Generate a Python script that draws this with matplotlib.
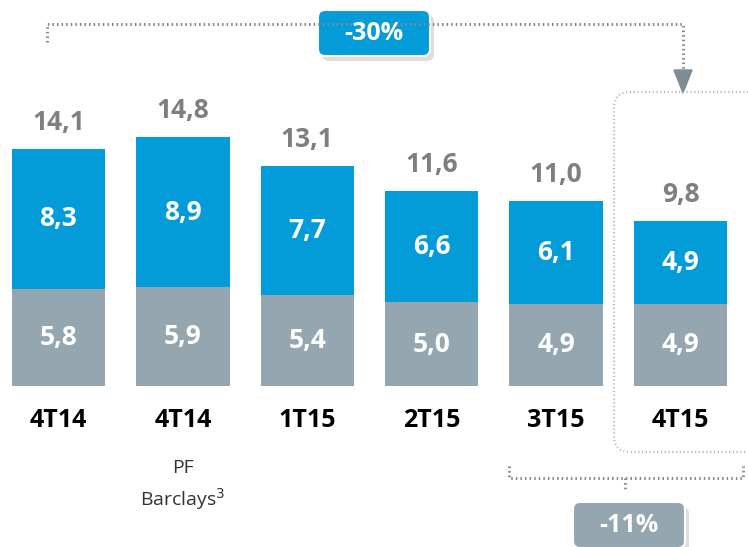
import matplotlib
matplotlib.use("Agg")
import numpy as np
from matplotlib import pyplot as plt
from matplotlib.patches import FancyBboxPatch

# data
categories = ['4T14', '4T14', '1T15', '2T15', '3T15', '4T15']
bottom_vals = [5.8, 5.9, 5.4, 5.0, 4.9, 4.9]
top_vals = [8.3, 8.9, 7.7, 6.6, 6.1, 4.9]
totals = [14.1, 14.8, 13.1, 11.6, 11.0, 9.8]
change_all = '-30%'
change_q = '-11%'

blue = '#049bd9'
grey = '#94a6af'
dark = '#7f8c95'
font = 'Open Sans'

fig = plt.figure(figsize=(7.48, 5.47), dpi=100)
ax = fig.add_axes([0, 0, 1, 1])
x = np.arange(len(categories))
ax.bar(x, bottom_vals, width=0.75, color=grey)
ax.bar(x, top_vals, width=0.75, bottom=bottom_vals, color=blue)

def fmt(v):
    return ('%.1f' % v).replace('.', ',')

for i in range(len(x)):
    ax.text(x[i], bottom_vals[i] / 2, fmt(bottom_vals[i]), ha='center', va='center',
            color='white', fontsize=19, fontweight='bold', family=font)
    ax.text(x[i], bottom_vals[i] + top_vals[i] / 2, fmt(top_vals[i]), ha='center', va='center',
            color='white', fontsize=19, fontweight='bold', family=font)
    ax.text(x[i], totals[i] + 1.6, fmt(totals[i]), ha='center', va='center',
            color='#7f7f7f', fontsize=19, fontweight='bold', family=font)
    ax.text(x[i], -2.05, categories[i], ha='center', va='center',
            color='black', fontsize=18, fontweight='bold', family=font)
ax.text(x[1], -4.9, 'PF', ha='center', va='center', fontsize=14, family=font, color='#333333')
ax.text(x[1], -6.7, 'Barclays$^3$', ha='center', va='center', fontsize=14, family=font, color='#333333')

ax.set_xlim(-0.470, 5.543)
ax.set_ylim(-9.58, 22.98)
ax.axis('off')

# overlay in pixel coords for the annotations
ov = fig.add_axes([0, 0, 1, 1])
ov.set_xlim(0, 748)
ov.set_ylim(547, 0)
ov.axis('off')
dot = dict(color=dark, lw=2.2, ls=(0, (0.5, 1.0)))

ov.plot([47, 47, 683, 683], [42, 24, 24, 75], **dot)
ov.fill([674, 692, 683], [70, 70, 93], color=dark)
ov.plot([509, 509, 743, 743], [466, 478, 478, 466], **dot)
ov.plot([625, 625], [478, 490], **dot)

frame = FancyBboxPatch((614, 92), 160, 360, boxstyle='round,pad=0,rounding_size=16',
                       fill=False, ec='#b0b8bd', lw=1.6, ls=(0, (0.5, 1.2)))
ov.add_patch(frame)

for (bx, by, c, s) in [(318, 10, blue, change_all), (573, 502, grey, change_q)]:
    sh = FancyBboxPatch((bx + 4, by + 5), 112, 46, boxstyle='round,pad=0,rounding_size=7',
                        fc='#c8c8c8', ec='none', alpha=0.6)
    ov.add_patch(sh)
    b = FancyBboxPatch((bx, by), 112, 46, boxstyle='round,pad=0,rounding_size=7',
                       fc=c, ec='white', lw=1.5)
    ov.add_patch(b)
    ov.text(bx + 56, by + 24, s, ha='center', va='center', color='white',
            fontsize=18, fontweight='bold', family=font)

fig.savefig('out.png', dpi=100)
